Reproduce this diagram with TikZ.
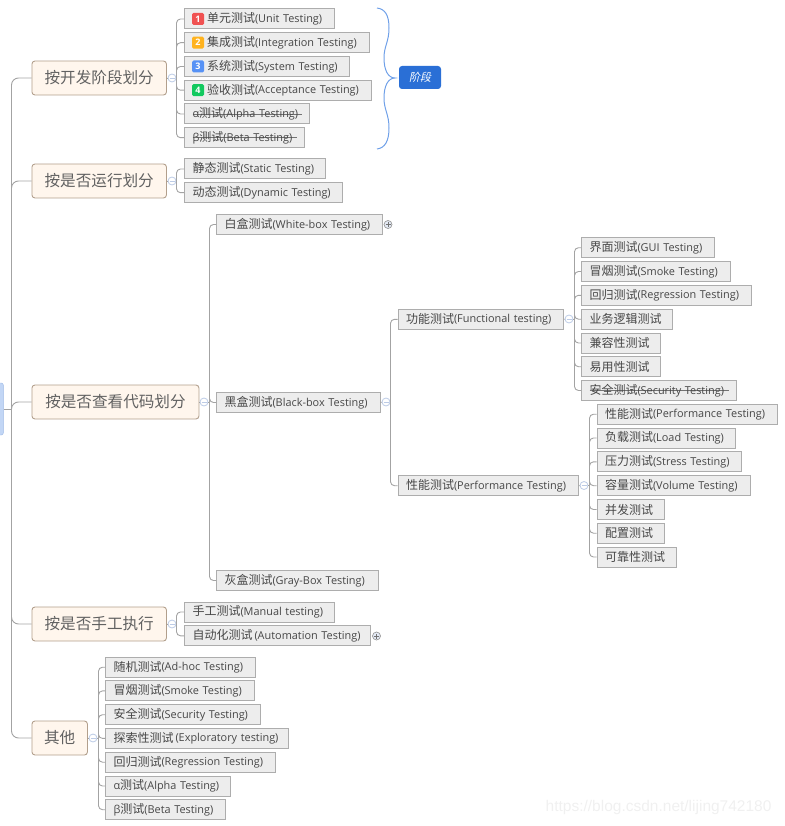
\documentclass[tikz,border=0pt]{standalone}
\usepackage{fontspec}
\setmainfont{Open Sans}
\newfontfamily\cjk{Noto Sans CJK SC}
\newfontfamily\cjkslant[FakeSlant=0.2]{Noto Sans CJK SC}
\newfontfamily\marksans{Liberation Sans}
\newcommand{\zh}[1]{{\fontsize{12}{12}\selectfont\cjk\raisebox{-0.4pt}{#1}}}
\definecolor{linegray}{HTML}{A3A3A3}
\definecolor{boxgray}{HTML}{ADADAD}
\definecolor{foldblue}{HTML}{BCCBE6}
\definecolor{stageblue}{HTML}{2A6FD6}
\definecolor{braceblue}{HTML}{6FA0E8}
\definecolor{rootblue}{HTML}{C2D6F5}
\definecolor{rootline}{HTML}{9DB9E6}
\definecolor{badgered}{HTML}{F05252}
\definecolor{badgeorange}{HTML}{FFB31F}
\definecolor{badgeblue}{HTML}{5792F5}
\definecolor{badgegreen}{HTML}{12C95F}
\tikzset{
	conn/.style={draw=linegray, line width=0.9pt, rounded corners=4pt},
	branch/.style={draw=boxgray!70!brown, fill=orange!7, rounded corners=3pt, line width=0.9pt, anchor=west, minimum height=34pt, inner xsep=0pt, inner ysep=0pt, text=black!62, font=\fontsize{15.6}{15.6}\selectfont\cjk},
	leaf/.style={draw=boxgray, fill=black!7, line width=1pt, anchor=west, xshift=-0.5pt, minimum height=20pt, inner xsep=8pt, inner ysep=0pt, text=black!72, align=left, font=\fontsize{10.9}{12}\selectfont},
	crossed/.style={path picture={\draw[black!55, line width=0.8pt] ([xshift=8pt]path picture bounding box.west) -- ([xshift=-8pt]path picture bounding box.east);}},
	badge/.style={rounded corners=1.5pt, minimum size=12pt, inner sep=0pt, text=white, font=\fontsize{9}{9}\selectfont\bfseries},
	fold/.style={circle, draw=foldblue, fill=white, line width=0.8pt, minimum size=8pt, inner sep=0pt, path picture={\draw[foldblue, line width=0.8pt] ([xshift=-2.5pt]path picture bounding box.center) -- ([xshift=2.5pt]path picture bounding box.center);}},
	unfold/.style={circle, draw=black!40, fill=foldblue!40, line width=0.7pt, minimum size=8pt, inner sep=0pt, path picture={\draw[black!55, line width=0.7pt] ([xshift=-2.5pt]path picture bounding box.center) -- ([xshift=2.5pt]path picture bounding box.center) ([yshift=-2.5pt]path picture bounding box.center) -- ([yshift=2.5pt]path picture bounding box.center);}},
}
\begin{document}
\begin{tikzpicture}[x=1pt, y=-1pt]
	\useasboundingbox (0,0) rectangle (784,826);
	% root, cut by the left edge
	\node[draw=rootline, fill=rootblue, rounded corners=2pt, minimum width=12pt, minimum height=52pt, inner sep=0pt, anchor=east] (root) at (3.5,409) {};

	% branches
	\node[branch, minimum width=134.5pt] (dev) at (31.5,78) {按开发阶段划分};
	\node[branch, minimum width=134.5pt] (run) at (31.5,181) {按是否运行划分};
	\node[branch, minimum width=167pt] (code) at (31.5,402) {按是否查看代码划分};
	\node[branch, minimum width=134.5pt] (hand) at (31.5,624) {按是否手工执行};
	\node[branch, minimum width=55.5pt] (other) at (31.5,738) {其他};

	% folds
	\node[fold] (devfold) at (172,78) {};
	\node[fold] (runfold) at (172,181) {};
	\node[fold] (codefold) at (204,402) {};
	\node[fold] (handfold) at (172,624) {};
	\node[fold] (otherfold) at (93,738) {};
	\node[fold] (blackfold) at (386,402) {};
	\node[fold] (funcfold) at (569,319) {};
	\node[fold] (perffold) at (584,485.5) {};

	% by stage
	\node[leaf, text width=133.5pt] (unit) at (184.5,19) {\hspace{14.5pt}\zh{单元测试}(Unit Testing)};
	\node[leaf, text width=168.5pt] (integ) at (184.5,42.7) {\hspace{14.5pt}\zh{集成测试}(Integration Testing)};
	\node[leaf, text width=149pt] (sys) at (184.5,66.5) {\hspace{14.5pt}\zh{系统测试}(System Testing)};
	\node[leaf, text width=171pt] (accept) at (184.5,90.2) {\hspace{14.5pt}\zh{验收测试}(Acceptance Testing)};
	\node[leaf, crossed, text width=109pt] (alpha) at (184.5,114) {α\zh{测试}(Alpha Testing)};
	\node[leaf, crossed, text width=104pt] (beta) at (184.5,137.7) {β\zh{测试}(Beta Testing)};
	\node[badge, fill=badgered] (one) at (198,19) {1};
	\node[badge, fill=badgeorange] (two) at (198,42.7) {2};
	\node[badge, fill=badgeblue] (three) at (198,66.5) {3};
	\node[badge, fill=badgegreen] (four) at (198,90.2) {4};

	% by running
	\node[leaf, text width=125pt] (static) at (184.5,169) {\zh{静态测试}(Static Testing)};
	\node[leaf, text width=142pt] (dynamic) at (184.5,192.7) {\zh{动态测试}(Dynamic Testing)};

	% by code
	\node[leaf, text width=150pt] (white) at (216.5,224.5) {\zh{白盒测试}(White-box Testing)};
	\node[leaf, text width=147.5pt] (black) at (216.5,402.5) {\zh{黑盒测试}(Black-box Testing)};
	\node[leaf, text width=145.5pt] (gray) at (216.5,580.5) {\zh{灰盒测试}(Gray-Box Testing)};
	\node[unfold] (whiteplus) at (388,224.5) {};
	\node[leaf, text width=149.5pt] (func) at (398,319.3) {\zh{功能测试}(Functional testing)};
	\node[leaf, text width=164.5pt] (perf) at (398,485.7) {\zh{性能测试}(Performance Testing)};

	\node[leaf, text width=116.5pt] (gui) at (581.5,247.7) {\zh{界面测试}(GUI Testing)};
	\node[leaf, text width=133pt] (smoke) at (581.5,271.5) {\zh{冒烟测试}(Smoke Testing)};
	\node[leaf, text width=154pt] (regress) at (581.5,295.3) {\zh{回归测试}(Regression Testing)};
	\node[leaf, text width=75pt] (logic) at (581.5,319.2) {\zh{业务逻辑测试}};
	\node[leaf, text width=63pt] (compat) at (581.5,343) {\zh{兼容性测试}};
	\node[leaf, text width=63pt] (usable) at (581.5,366.7) {\zh{易用性测试}};
	\node[leaf, crossed, text width=139pt] (secure) at (581.5,390.5) {\zh{安全测试}(Security Testing)};

	\node[leaf, text width=164pt] (perfa) at (597,414.2) {\zh{性能测试}(Performance Testing)};
	\node[leaf, text width=122.5pt] (load) at (597,438) {\zh{负载测试}(Load Testing)};
	\node[leaf, text width=128.5pt] (stress) at (597,461.8) {\zh{压力测试}(Stress Testing)};
	\node[leaf, text width=137pt] (volume) at (597,485.7) {\zh{容量测试}(Volume Testing)};
	\node[leaf, text width=51.5pt] (conc) at (597,509.5) {\zh{并发测试}};
	\node[leaf, text width=51.5pt] (config) at (597,533.2) {\zh{配置测试}};
	\node[leaf, text width=63pt] (rely) at (597,557) {\zh{可靠性测试}};

	% by hand
	\node[leaf, text width=133.5pt] (manual) at (184.5,612) {\zh{手工测试}(Manual testing)};
	\node[leaf, text width=170pt] (auto) at (184.5,635.8) {\mbox{\zh{自动化测试}\hspace{2pt}(Automation Testing)}};
	\node[unfold] (autoplus) at (376.5,636) {};

	% other
	\node[leaf, text width=134pt] (adhoc) at (105.5,667.2) {\zh{随机测试}(Ad-hoc Testing)};
	\node[leaf, text width=133pt] (smokeb) at (105.5,690.9) {\zh{冒烟测试}(Smoke Testing)};
	\node[leaf, text width=139pt] (secureb) at (105.5,714.7) {\zh{安全测试}(Security Testing)};
	\node[leaf, text width=167pt] (explore) at (105.5,738.4) {\mbox{\zh{探索性测试}\hspace{2pt}(Exploratory testing)}};
	\node[leaf, text width=154pt] (regressb) at (105.5,762.2) {\zh{回归测试}(Regression Testing)};
	\node[leaf, text width=109pt] (alphab) at (105.5,786) {α\zh{测试}(Alpha Testing)};
	\node[leaf, text width=104pt] (betab) at (105.5,809.7) {β\zh{测试}(Beta Testing)};

	% main trunk
	\coordinate (trunk) at (11.5,409);
	\draw[conn, rounded corners=0pt] (root.east) -- (trunk);
	\foreach \b in {dev,run,code,hand,other}
		\draw[conn, rounded corners=7pt] (trunk) |- (\b.west);

	% trunks of the subtrees
	\coordinate (devtrunk) at (176.5,78);
	\coordinate (runtrunk) at (176.5,181);
	\coordinate (codetrunk) at (209.5,402);
	\coordinate (handtrunk) at (176.5,624);
	\coordinate (othertrunk) at (98.5,738);
	\coordinate (blacktrunk) at (390.5,402);
	\coordinate (functrunk) at (574.5,319);
	\coordinate (perftrunk) at (589.5,485.5);
	\draw[conn] (dev.east) -- (devfold) (run.east) -- (runfold) (code.east) -- (codefold) (hand.east) -- (handfold) (other.east) -- (otherfold);
	\draw[conn] (black.east) -- (blackfold) (func.east) -- (funcfold) (perf.east) -- (perffold);
	\draw[conn] (devfold) -- (devtrunk) (runfold) -- (runtrunk) (codefold) -- (codetrunk) (handfold) -- (handtrunk) (otherfold) -- (othertrunk) (blackfold) -- (blacktrunk) (funcfold) -- (functrunk) (perffold) -- (perftrunk);
	\foreach \n in {unit,integ,sys,accept,alpha,beta}
		\draw[conn] (devtrunk) |- (\n.west);
	\foreach \n in {static,dynamic}
		\draw[conn] (runtrunk) |- (\n.west);
	\foreach \n in {white,black,gray}
		\draw[conn] (codetrunk) |- (\n.west);
	\foreach \n in {func,perf}
		\draw[conn] (blacktrunk) |- (\n.west);
	\foreach \n in {gui,smoke,regress,logic,compat,usable,secure}
		\draw[conn] (functrunk) |- (\n.west);
	\foreach \n in {perfa,load,stress,volume,conc,config,rely}
		\draw[conn] (perftrunk) |- (\n.west);
	\foreach \n in {manual,auto}
		\draw[conn] (handtrunk) |- (\n.west);
	\foreach \n in {adhoc,smokeb,secureb,explore,regressb,alphab,betab}
		\draw[conn] (othertrunk) |- (\n.west);

	% summary
	\node[fill=stageblue, rounded corners=3pt, minimum width=42pt, minimum height=23pt, inner sep=0pt, text=white, font=\fontsize{11}{11}\selectfont\cjkslant] (stage) at (420,77.5) {阶段};
	\coordinate (bracetop) at (377,8);
	\coordinate (bracetip) at (395,78);
	\coordinate (bracebot) at (377,149);
	\draw[braceblue, line width=1pt] (bracetop) .. controls (385,9) and (389,15) .. (389,28) .. controls (389,42) and (384,46) .. (384,58) .. controls (384,70) and (388,78) .. (bracetip) .. controls (388,78) and (384,86) .. (384,98) .. controls (384,110) and (389,114) .. (389,128) .. controls (389,141) and (385,148) .. (bracebot);

	% watermark
	\node[text=black!6, anchor=east, font=\fontsize{15.5}{15.5}\selectfont\marksans] (mark) at (775,807.5) {https://blog.csdn.net/lijing742180};
\end{tikzpicture}
\end{document}
